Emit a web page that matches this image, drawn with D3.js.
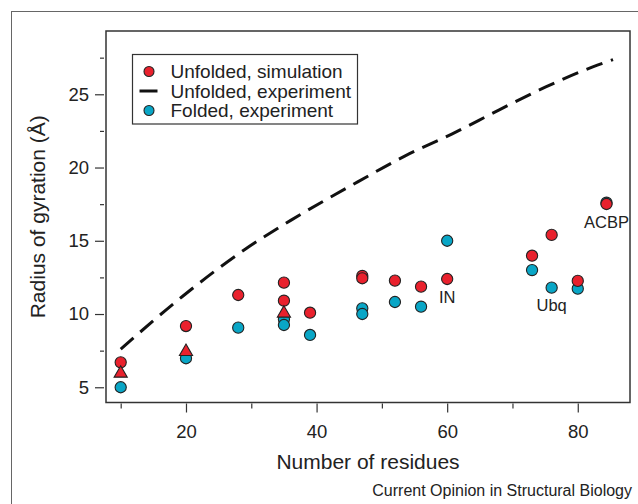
<!DOCTYPE html>
<html>
<head>
<meta charset="utf-8">
<script src="https://cdn.jsdelivr.net/npm/d3@7"></script>
<style>
  body { margin: 0; background: #fff; }
  svg { display: block; font-family: "Liberation Sans", Arial, sans-serif; }
</style>
</head>
<body>
<div id="chart"></div>
<script>
// residues vs radius of gyration (Å)
const foldedN  = [10, 20, 28, 35, 35, 39, 47, 47, 52, 56, 60, 73, 76, 80, 84.4];
const foldedRg = [5.0, 6.98, 9.07, 9.64, 9.25, 8.57, 10.39, 10.0, 10.82, 10.5, 15.0, 13.0, 11.8, 11.73, 17.6];

const simN  = [10, 20, 28, 35, 35, 39, 47, 47, 52, 56, 60, 73, 76, 80, 84.4];
const simRg = [6.7, 9.18, 11.3, 12.14, 10.91, 10.09, 12.6, 12.44, 12.28, 11.87, 12.39, 13.98, 15.4, 12.26, 17.51];

const triN  = [10, 20, 35];
const triRg = [5.95, 7.43, 10.05];

const expN  = [10, 19.4, 28.9, 36.1, 46.3, 53.5, 60.7, 67.9, 75.1, 82.3, 85.4];
const expRg = [7.6, 11.18, 14.37, 16.41, 19.02, 20.78, 22.28, 23.92, 25.5, 26.87, 27.37];

const proteinNames = ["IN", "Ubq", "ACBP"];
const proteinN     = [60, 76, 84.4];
const proteinRg    = [12.39, 11.8, 17.51];

const xMajor = [20, 40, 60, 80];
const xMinor = [10, 30, 50, 70];
const yMajor = [5, 10, 15, 20, 25];
const yMinor = [7.5, 12.5, 17.5, 22.5, 27.5];

const legendLabels = ["Unfolded, simulation", "Unfolded, experiment", "Folded, experiment"];

const width = 638, height = 504;
const plotL = 106, plotR = 630, plotT = 31, plotB = 402.5;
const red = "#e9212d", cyan = "#09a6c6", ink = "#222";

const svg = d3.select("#chart").append("svg")
    .attr("width", width)
    .attr("height", height);

svg.append("rect").attr("width", width).attr("height", height).attr("fill", "#fff");

// outer figure frame
svg.append("rect")
    .attr("x", 11.5).attr("y", 11.5)
    .attr("width", 700).attr("height", 600)
    .attr("fill", "none").attr("stroke", "#666").attr("stroke-width", 1);

const x = d3.scaleLinear().domain([7.75, 88]).range([plotL, plotR]);
const y = d3.scaleLinear().domain([3.96, 29.32]).range([plotB, plotT]);

// axes, R style: ticks sit a little off the box
function styleAxis(g) {
    g.select(".domain").remove();
    g.selectAll("line").attr("stroke", "#333").attr("stroke-width", 1.2);
    g.selectAll("text").attr("fill", ink).style("font-size", "18.5px");
}

svg.append("g")
    .attr("transform", `translate(0,${plotB + 1})`)
    .call(d3.axisBottom(x).tickValues(xMajor).tickSize(9).tickPadding(12).tickFormat(d3.format("d")))
    .call(styleAxis);
svg.append("g")
    .attr("transform", `translate(0,${plotB + 1})`)
    .call(d3.axisBottom(x).tickValues(xMinor).tickSize(5).tickFormat(""))
    .call(styleAxis);

svg.append("g")
    .attr("transform", `translate(${plotL - 2},0)`)
    .call(d3.axisLeft(y).tickValues(yMajor).tickSize(9).tickPadding(6).tickFormat(d3.format("d")))
    .call(styleAxis);
svg.append("g")
    .attr("transform", `translate(${plotL - 2},0)`)
    .call(d3.axisLeft(y).tickValues(yMinor).tickSize(4).tickFormat(""))
    .call(styleAxis);

// plot box
svg.append("rect")
    .attr("x", plotL).attr("y", plotT)
    .attr("width", plotR - plotL).attr("height", plotB - plotT)
    .attr("fill", "none").attr("stroke", "#333").attr("stroke-width", 1.5);

// unfolded experiment (dashed)
const line = d3.line().x(d => x(d[0])).y(d => y(d[1])).curve(d3.curveMonotoneX);
svg.append("path")
    .datum(d3.zip(expN, expRg))
    .attr("d", line)
    .attr("fill", "none")
    .attr("stroke", "#111")
    .attr("stroke-width", 3)
    .attr("stroke-dasharray", "17,9");

// folded experiment
svg.append("g").selectAll("circle")
    .data(d3.zip(foldedN, foldedRg))
    .join("circle")
    .attr("cx", d => x(d[0])).attr("cy", d => y(d[1]))
    .attr("r", 5.6)
    .attr("fill", cyan).attr("stroke", ink).attr("stroke-width", 1.1);

// unfolded simulation
svg.append("g").selectAll("circle")
    .data(d3.zip(simN, simRg))
    .join("circle")
    .attr("cx", d => x(d[0])).attr("cy", d => y(d[1]))
    .attr("r", 5.6)
    .attr("fill", red).attr("stroke", ink).attr("stroke-width", 1.1);

const tri = d3.symbol().type(d3.symbolTriangle).size(75);
svg.append("g").selectAll("path")
    .data(d3.zip(triN, triRg))
    .join("path")
    .attr("transform", d => `translate(${x(d[0])},${y(d[1])})`)
    .attr("d", tri)
    .attr("fill", red).attr("stroke", ink).attr("stroke-width", 1.1);

// protein labels under their points
svg.append("g").selectAll("text")
    .data(d3.zip(proteinNames, proteinN, proteinRg))
    .join("text")
    .attr("x", d => x(d[1]))
    .attr("y", d => y(d[2]) + 23.5)
    .attr("text-anchor", "middle")
    .attr("fill", ink)
    .style("font-size", "16.5px")
    .text(d => d[0]);

// legend
const lg = svg.append("g").attr("transform", "translate(132.5,54.5)");
lg.append("rect")
    .attr("width", 225).attr("height", 69.5)
    .attr("fill", "#fff").attr("stroke", "#333").attr("stroke-width", 1.2);
legendLabels.forEach((label, i) => {
    const cy = 17 + i * 19.5;
    if (i === 1) {
        lg.append("line")
            .attr("x1", 7).attr("x2", 25).attr("y1", cy).attr("y2", cy)
            .attr("stroke", "#111").attr("stroke-width", 3);
    } else {
        lg.append("circle")
            .attr("cx", 16.5).attr("cy", cy).attr("r", 5)
            .attr("fill", i === 0 ? red : cyan)
            .attr("stroke", ink).attr("stroke-width", 1.1);
    }
    lg.append("text")
        .attr("x", 38).attr("y", cy + 6.6)
        .attr("fill", ink)
        .style("font-size", "19px")
        .text(label);
});

// axis titles
svg.append("text")
    .attr("x", (plotL + plotR) / 2).attr("y", 469)
    .attr("text-anchor", "middle")
    .attr("fill", ink)
    .style("font-size", "21px")
    .text("Number of residues");

svg.append("text")
    .attr("transform", `translate(45,${(plotT + plotB) / 2}) rotate(-90)`)
    .attr("text-anchor", "middle")
    .attr("fill", ink)
    .style("font-size", "21px")
    .text("Radius of gyration (Å)");

svg.append("text")
    .attr("x", 632).attr("y", 496)
    .attr("text-anchor", "end")
    .attr("fill", ink)
    .style("font-size", "16px")
    .text("Current Opinion in Structural Biology");
</script>
</body>
</html>
